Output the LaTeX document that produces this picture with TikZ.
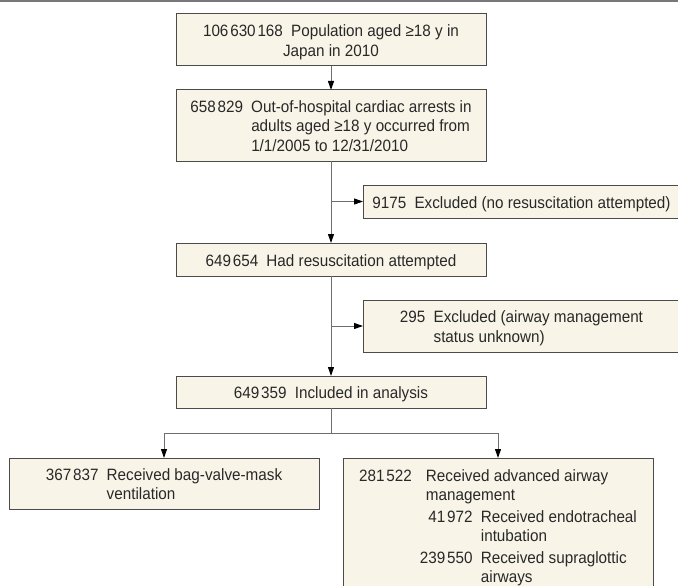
\documentclass[tikz,border=0pt]{standalone}
\usepackage{fontspec}
\setmainfont[FakeStretch=0.93]{Liberation Sans}
\usetikzlibrary{arrows.meta}
\definecolor{boxfill}{RGB}{248,245,232}
\definecolor{boxline}{RGB}{75,75,75}
\definecolor{connline}{RGB}{110,110,110}
\definecolor{rulecol}{RGB}{120,120,120}
\definecolor{txtcol}{RGB}{40,40,40}
\newcommand{\ns}{\kern1.8pt}
\newcommand{\gap}{\hspace{0.5em}}
\newcommand{\dn}[1]{\raisebox{-2.5pt}[\height][\depth]{#1}}
\begin{document}
\begin{tikzpicture}[x=1pt,y=-1pt,
  font=\fontsize{16.4}{19.5}\selectfont,
  box/.style={draw=boxline, fill=boxfill, text=txtcol, line width=1pt, inner sep=0pt, outer sep=0pt, anchor=north west, align=center},
  conn/.style={draw=connline, line width=1pt, -{Triangle[length=9pt,width=6pt,color=black]}},
  plain/.style={draw=connline, line width=1pt},
  topline/.style={draw=rulecol, line width=1.6pt}]
\clip (0,0) rectangle (678,586);
\fill[white] (0,0) rectangle (678,586);
\draw[topline] (0,0.8) -- (678,0.8);

\node[box, minimum width=310pt, minimum height=52pt] (B1) at (176,14)
  {\dn{\begin{tabular}{@{}c@{}}106\ns630\ns168\gap Population aged ≥18 y in\\ Japan in 2010\end{tabular}}};
\node[box, minimum width=310pt, minimum height=71pt] (B2) at (176,90)
  {\dn{\begin{tabular}{@{}l@{\gap}l@{}}658\ns829 & Out-of-hospital cardiac arrests in\\ & adults aged ≥18 y occurred from\\ & 1/1/2005 to 12/31/2010\end{tabular}}};
\node[box, minimum width=317pt, minimum height=33pt] (E1) at (363,185)
  {\dn{9175\gap Excluded (no resuscitation attempted)}};
\node[box, minimum width=310pt, minimum height=33pt] (B3) at (176,243)
  {\dn{649\ns654\gap Had resuscitation attempted}};
\node[box, minimum width=317pt, minimum height=52pt] (E2) at (363,300)
  {\dn{\begin{tabular}{@{}l@{\gap}l@{}}295 & Excluded (airway management\\ & status unknown)\end{tabular}}};
\node[box, minimum width=310pt, minimum height=32pt] (B4) at (176,376)
  {\dn{649\ns359\gap Included in analysis}};
\node[box, minimum width=310pt, minimum height=51pt] (L) at (9,458)
  {\dn{\begin{tabular}{@{}l@{\gap}l@{}}367\ns837 & Received bag-valve-mask\\ & ventilation\end{tabular}}};
\node[box, minimum width=310pt, minimum height=135pt] (R) at (343,458)
  {\dn{\begin{tabular}{@{}l@{\gap}r@{\gap}l@{}}281\ns522 & \multicolumn{2}{l@{}}{Received advanced airway}\\
   & \multicolumn{2}{l@{}}{management}\\[2pt]
   & 41\ns972 & Received endotracheal\\
   & & intubation\\[2pt]
   & 239\ns550 & Received supraglottic\\
   & & airways\end{tabular}}};

\coordinate (J) at (B4.south |- 0,433);
\draw[conn] (B1.south) -- (B2.north);
\draw[conn] (B2.south) -- (B3.north);
\draw[conn] (B2.south |- E1.west) -- (E1.west);
\draw[conn] (B3.south) -- (B4.north);
\draw[conn] (B3.south |- E2.west) -- (E2.west);
\draw[plain] (B4.south) -- (J);
\draw[conn] (J) -| (L.north);
\draw[conn] (J) -| (R.north);
\end{tikzpicture}
\end{document}
